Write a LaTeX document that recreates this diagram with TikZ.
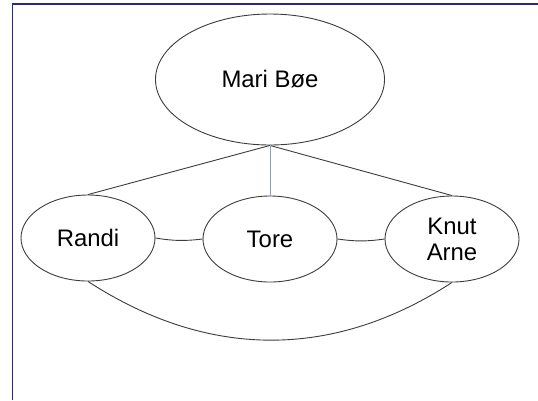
\documentclass[tikz,border=0pt]{standalone}
\usepackage{fontspec}
\setmainfont{Liberation Sans}
\usetikzlibrary{shapes.geometric}

\definecolor{framecol}{RGB}{40,40,140}
\definecolor{linecol}{RGB}{60,60,60}
\definecolor{tiecol}{RGB}{140,160,190}

\tikzset{
  person/.style={ellipse, draw=linecol, line width=0.9bp, inner sep=0pt,
    minimum width=134bp, minimum height=86bp, align=center,
    font=\fontsize{24}{26}\selectfont},
  tie/.style={draw=linecol, line width=0.9bp}
}

\begin{document}
\begin{tikzpicture}[x=1bp, y=-1bp]
        % the page
        \useasboundingbox (0,0) rectangle (538,400);
        \draw [framecol, line width=1.5bp] (12.5,400) -- (12.5,4) -- (538,4);

        % the people
        \node[person, minimum width=229bp, minimum height=131bp] (mari) at (270,79.5) {Mari Bøe};
        \node[person] (randi) at (88,238) {Randi};
        \node[person] (tore) at (270,239) {Tore};
        \node[person] (knut) at (452,239) {Knut\\Arne};

        % lines down from Mari
        \draw [tie] (mari.south) -- (randi.north);
        \draw [tie] (mari.south) -- (knut.north);
        \draw [tiecol, line width=0.9bp] (mari.south) -- (tore.north);

        % lines between the children
        \draw [tie] (randi.east) to[bend right=8] (tore.west);
        \draw [tie] (tore.east) to[bend right=8] (knut.west);
        \draw [tie] (randi.south) to[out=-33, in=213] (knut.south);
    \end{tikzpicture}
\end{document}
